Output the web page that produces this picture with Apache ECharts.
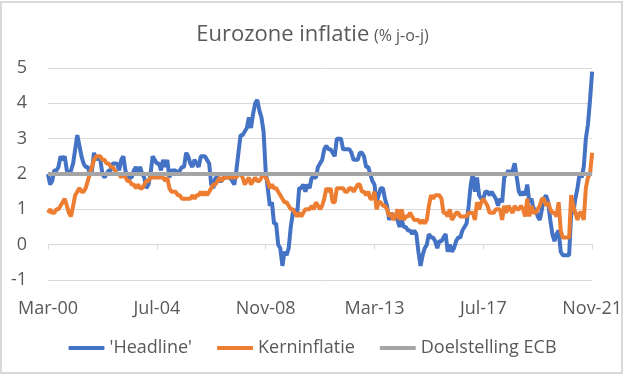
<!DOCTYPE html>
<html>
<head>
<meta charset="utf-8">
<title>Eurozone inflatie</title>
<script src="https://cdn.jsdelivr.net/npm/echarts@6/dist/echarts.min.js"></script>
<style>
html, body { margin: 0; padding: 0; background: #fff; }
#chart { width: 625px; height: 376px; }
</style>
</head>
<body>
<div id="chart"></div>
<script>
// maandcijfers, mrt 2000 t/m nov 2021
var startYear = 2000;
var startMonth = 2; // maart
var monthNames = ['Jan', 'Feb', 'Mar', 'Apr', 'May', 'Jun', 'Jul', 'Aug', 'Sep', 'Oct', 'Nov', 'Dec'];

var headline = [
	2.0, 1.7, 1.8, 2.1, 2.1, 2.2, 2.5, 2.4, 2.5, 2.1,
	2.0, 2.1, 2.3, 2.7, 3.1, 2.8, 2.5, 2.3, 2.2, 2.2, 2.0, 2.1,
	2.6, 2.4, 2.5, 2.4, 2.0, 1.9, 2.0, 2.1, 2.1, 2.3, 2.3, 2.3,
	2.1, 2.4, 2.5, 2.1, 1.8, 1.9, 1.9, 2.1, 2.2, 2.0, 2.2, 2.0,
	1.9, 1.6, 1.7, 2.0, 2.5, 2.4, 2.3, 2.3, 2.1, 2.4, 2.2, 2.4,
	1.9, 2.1, 2.1, 2.1, 2.0, 2.1, 2.2, 2.2, 2.6, 2.5, 2.3, 2.2,
	2.4, 2.3, 2.2, 2.5, 2.5, 2.5, 2.4, 2.3, 1.7, 1.6, 1.9, 1.9,
	1.8, 1.8, 1.9, 1.9, 1.9, 1.9, 1.8, 1.7, 2.1, 2.6, 3.1, 3.1,
	3.2, 3.3, 3.6, 3.3, 3.7, 4.0, 4.1, 3.8, 3.6, 3.2, 2.1, 1.6,
	1.1, 1.2, 0.6, 0.6, 0.0, -0.1, -0.6, -0.2, -0.3, -0.1, 0.5, 0.9,
	1.0, 0.8, 1.6, 1.6, 1.7, 1.5, 1.7, 1.6, 1.9, 1.9, 1.9, 2.2,
	2.3, 2.4, 2.7, 2.8, 2.7, 2.7, 2.6, 2.5, 3.0, 3.0, 3.0, 2.7,
	2.7, 2.7, 2.7, 2.6, 2.4, 2.4, 2.4, 2.6, 2.6, 2.5, 2.2, 2.2,
	2.0, 1.8, 1.7, 1.2, 1.4, 1.6, 1.6, 1.3, 1.1, 0.7, 0.9, 0.8,
	0.8, 0.7, 0.5, 0.7, 0.5, 0.5, 0.4, 0.4, 0.3, 0.4, 0.3, -0.2,
	-0.6, -0.3, -0.1, 0.0, 0.3, 0.2, 0.2, 0.1, -0.1, 0.1, 0.1, 0.2,
	0.3, -0.2, 0.0, -0.2, -0.1, 0.1, 0.2, 0.2, 0.4, 0.5, 0.6, 1.1,
	1.7, 2.0, 1.5, 1.9, 1.4, 1.3, 1.3, 1.5, 1.5, 1.4, 1.5, 1.4,
	1.3, 1.1, 1.3, 1.2, 1.9, 2.0, 2.1, 2.0, 2.1, 2.3, 1.9, 1.5,
	1.4, 1.5, 1.4, 1.7, 1.2, 1.3, 1.0, 1.0, 0.8, 0.7, 1.0, 1.3,
	1.4, 1.2, 0.7, 0.3, 0.1, 0.3, 0.4, -0.2, -0.3, -0.3, -0.3, -0.3,
	0.9, 0.9, 1.3, 1.6, 2.0, 1.9, 2.2, 3.0, 3.4, 4.1, 4.9
];

var kerninflatie = [
	0.9, 1.0, 0.9, 0.9, 1.0, 1.0, 1.1, 1.2, 1.3, 1.1,
	0.9, 0.8, 1.1, 1.4, 1.5, 1.6, 1.5, 1.5, 1.6, 1.8, 2.0, 2.2,
	2.4, 2.5, 2.5, 2.5, 2.4, 2.4, 2.3, 2.3, 2.2, 2.2, 2.1, 2.0,
	2.0, 1.9, 2.0, 1.9, 1.8, 1.8, 1.7, 1.7, 1.6, 1.7, 1.6, 1.6,
	1.7, 1.8, 1.8, 1.9, 1.9, 1.9, 1.9, 1.9, 1.9, 1.9, 1.8, 1.9,
	1.6, 1.5, 1.5, 1.5, 1.4, 1.4, 1.3, 1.3, 1.3, 1.3, 1.3, 1.4,
	1.3, 1.4, 1.4, 1.5, 1.4, 1.5, 1.4, 1.5, 1.6, 1.7, 1.7, 1.8,
	1.9, 1.8, 1.9, 1.9, 1.9, 1.9, 1.9, 1.9, 1.9, 2.0, 2.0, 1.9,
	1.7, 1.8, 1.9, 1.7, 1.8, 1.9, 1.8, 1.8, 1.9, 2.0, 1.9, 1.8,
	1.6, 1.7, 1.6, 1.6, 1.5, 1.4, 1.3, 1.2, 1.2, 1.1, 1.0, 1.0,
	0.9, 0.8, 0.9, 0.8, 0.9, 1.0, 1.0, 1.0, 1.1, 1.0, 1.2, 1.1,
	1.0, 1.1, 1.3, 1.6, 1.5, 1.6, 1.2, 1.2, 1.6, 1.6, 1.6, 1.6,
	1.5, 1.5, 1.6, 1.6, 1.5, 1.6, 1.7, 1.7, 1.5, 1.5, 1.4, 1.5,
	1.3, 1.3, 1.5, 1.0, 1.2, 1.2, 1.1, 1.1, 1.0, 0.8, 0.9, 0.7,
	0.8, 1.0, 0.7, 1.0, 0.7, 0.8, 0.8, 0.9, 0.8, 0.7, 0.7, 0.7,
	0.6, 0.7, 0.6, 0.7, 1.1, 1.4, 1.3, 1.4, 1.4, 1.4, 1.3, 0.9,
	0.9, 0.8, 1.0, 0.7, 0.8, 0.9, 0.9, 0.8, 0.8, 0.8, 0.8, 0.9,
	0.9, 0.9, 0.7, 1.2, 1.0, 1.2, 1.3, 1.2, 1.1, 0.9, 0.9, 0.9,
	1.0, 1.0, 1.0, 0.7, 1.1, 0.9, 1.1, 1.0, 0.9, 1.1, 1.0, 1.0,
	1.1, 1.0, 0.8, 1.3, 0.8, 1.1, 0.9, 0.9, 1.0, 1.1, 1.3, 1.3,
	1.1, 1.2, 1.0, 0.9, 0.9, 0.8, 1.2, 0.4, 0.2, 0.2, 0.2, 0.2,
	1.4, 1.1, 0.9, 0.7, 0.9, 0.9, 0.7, 1.6, 1.9, 2.0, 2.6
];

var ecbTarget = 2;

var months = [];
for (var i = 0; i < headline.length; i++) {
	var m = (startMonth + i) % 12;
	var y = startYear + Math.floor((startMonth + i) / 12);
	months.push(monthNames[m] + '-' + String(y % 100).padStart(2, '0'));
}
var doelstelling = months.map(function() { return ecbTarget; });

var font = 'Open Sans';
var textColor = '#595959';

var chart = echarts.init(document.getElementById('chart'));
chart.setOption({
	animation: false,
	textStyle: { fontFamily: font },
	title: {
		text: '{a|Eurozone inflatie} {b|(% j-o-j)}',
		left: 'center',
		top: 19,
		textStyle: {
			fontWeight: 'normal',
			rich: {
				a: { fontSize: 22, fontWeight: 'normal', color: textColor, fontFamily: font },
				b: { fontSize: 16, fontWeight: 'normal', color: textColor, fontFamily: font, padding: [3, 0, 0, 0] }
			}
		}
	},
	legend: {
		top: 334,
		left: 'center',
		icon: 'roundRect',
		itemWidth: 36,
		itemHeight: 4,
		itemGap: 25,
		textStyle: { fontSize: 18, color: textColor, fontFamily: font },
		data: ["'Headline'", 'Kerninflatie', 'Doelstelling ECB']
	},
	graphic: [{
		type: 'rect',
		shape: { x: 1, y: 2, width: 621, height: 371 },
		style: { fill: 'none', stroke: '#d9d9d9', lineWidth: 2 },
		silent: true
	}],
	grid: { left: 48, right: 32, top: 68, bottom: 96 },
	xAxis: [
		{
			type: 'category',
			data: months,
			position: 'bottom',
			boundaryGap: false,
			axisLine: { show: false, onZero: false },
			axisTick: { show: false },
			axisLabel: { interval: 51, margin: 20, fontSize: 18, color: textColor, fontFamily: font },
			splitLine: { show: false }
		},
		{
			type: 'category',
			data: months,
			position: 'bottom',
			boundaryGap: false,
			axisLine: { show: true, onZero: true, lineStyle: { color: '#d9d9d9', width: 1 } },
			axisTick: { show: true, interval: 51, length: 5, lineStyle: { color: '#d9d9d9' } },
			axisLabel: { show: false },
			splitLine: { show: false }
		}
	],
	yAxis: {
		type: 'value',
		min: -1,
		max: 5,
		interval: 1,
		axisLine: { show: false },
		axisTick: { show: false },
		axisLabel: { margin: 21, fontSize: 18, color: textColor, fontFamily: font },
		splitLine: { lineStyle: { color: '#d9d9d9', width: 1 } }
	},
	series: [
		{
			name: "'Headline'",
			type: 'line',
			data: headline,
			symbol: 'none',
			lineStyle: { color: '#4472c4', width: 4 },
			itemStyle: { color: '#4472c4' }
		},
		{
			name: 'Kerninflatie',
			type: 'line',
			data: kerninflatie,
			symbol: 'none',
			lineStyle: { color: '#ed7d31', width: 4 },
			itemStyle: { color: '#ed7d31' }
		},
		{
			name: 'Doelstelling ECB',
			type: 'line',
			data: doelstelling,
			symbol: 'none',
			lineStyle: { color: '#a5a5a5', width: 4 },
			itemStyle: { color: '#a5a5a5' }
		}
	]
});
</script>
</body>
</html>
